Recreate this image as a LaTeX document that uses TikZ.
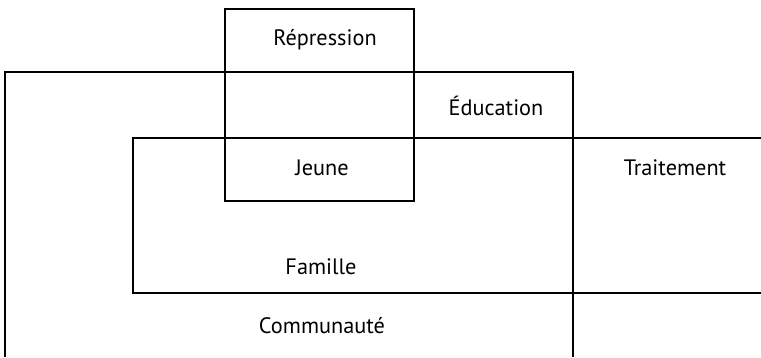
\documentclass[tikz,border=0pt]{standalone}
\usepackage{fontspec}
\setmainfont{PT Sans}
\usetikzlibrary{positioning}

\begin{document}
\begin{tikzpicture}[x=1pt,y=-1pt,
    frame/.style={line width=1.8pt},
    word/.style={font=\fontsize{22.3}{24}\selectfont, inner sep=0pt, anchor=base}]
      \useasboundingbox (0,0) rectangle (761,357);
      % domains
      \draw[frame] (5,357) |- (573,72) -- (573,357);
      \draw[frame] (761,138) -| (133,293) -- (761,293);
      \draw[frame] (225,9) rectangle (414,201);
      % labels
      \node[word] (rep) at (325,45) {Répression};
      \node[word] (edu) at (496,115) {Éducation};
      \node[word] (jeune) at (322,175) {Jeune};
      \node[word] (trait) at (675,175) {Traitement};
      \node[word] (fam) at (321,274) {Famille};
      \node[word] (comm) at (322,333) {Communauté};
    \end{tikzpicture}
\end{document}
